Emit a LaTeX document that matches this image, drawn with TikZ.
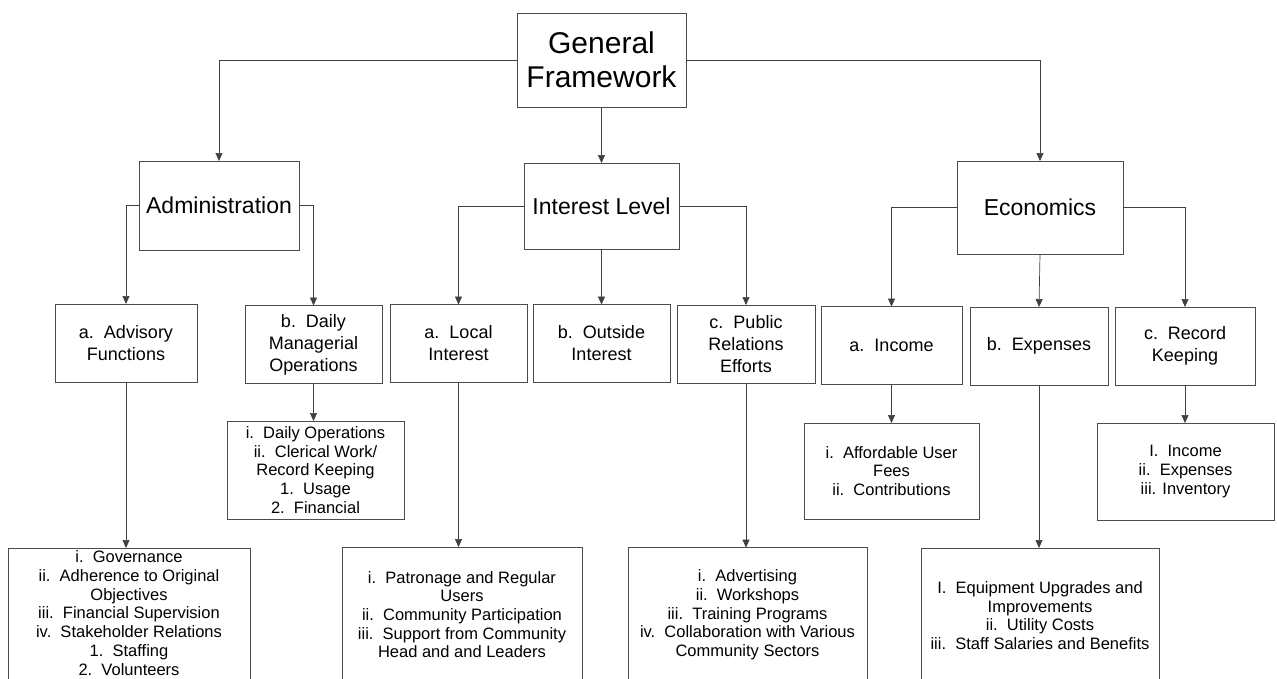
\documentclass[tikz,border=0pt]{standalone}
\usepackage{fontspec}
\setmainfont{Liberation Sans}
\usetikzlibrary{arrows.meta}

\begin{document}
\begin{tikzpicture}[x=1pt,y=-1pt,
  every node/.style={draw=black!70,line width=0.7pt,inner sep=0pt,outer sep=0pt,align=center},
  top/.style={font=\fontsize{30}{34}\selectfont},
  lvlone/.style={font=\fontsize{23}{27}\selectfont},
  lvltwo/.style={font=\fontsize{18}{22}\selectfont,minimum height=78pt},
  lvlthree/.style={font=\fontsize{16.5}{18.7}\selectfont},
  conn/.style={draw=black!75,line width=0.7pt,-{Triangle[length=8pt,width=7pt]}}]
\useasboundingbox (0,0) rectangle (1277,678);
\clip (0,0) rectangle (1277,678);
\fill[white] (0,0) rectangle (1277,678);

\node[top,minimum width=169pt,minimum height=94pt] (gf) at (601.5,60) {General\\Framework};

\node[lvlone,minimum width=160pt,minimum height=89pt] (admin) at (219,205.5) {Administration};
\node[lvlone,minimum width=155pt,minimum height=86pt] (interest) at (601.5,206) {Interest Level};
\node[lvlone,minimum width=166pt,minimum height=93pt] (econ) at (1040,207.5) {Economics};

\node[lvltwo,minimum width=142pt] (adv) at (126,343) {a.\ \ Advisory\\Functions};
\node[lvltwo,minimum width=137pt] (daily) at (313.5,344.5) {b.\ \ Daily\\Managerial\\Operations};
\node[lvltwo,minimum width=137pt] (local) at (458.5,343.5) {a.\ \ Local\\Interest};
\node[lvltwo,minimum width=137pt] (outside) at (601.5,343.5) {b.\ \ Outside\\Interest};
\node[lvltwo,minimum width=138pt] (public) at (746,344) {c.\ \ Public\\Relations\\Efforts};
\node[lvltwo,minimum width=141pt] (income) at (891.5,345.5) {a.\ \ Income};
\node[lvltwo,minimum width=138pt] (expenses) at (1039,346) {b.\ \ Expenses};
\node[lvltwo,minimum width=140pt] (record) at (1185,346) {c.\ \ Record\\Keeping};

\node[lvlthree,minimum width=177pt,minimum height=98pt] (dailylist) at (315.5,470)
  {i.\ \ Daily Operations\\ii.\ \ Clerical Work/\\Record Keeping\\1.\ \ Usage\\2.\ \ Financial};
\node[lvlthree,minimum width=175pt,minimum height=96pt] (incomelist) at (891.5,471)
  {i.\ \ Affordable User\\Fees\\ii.\ \ Contributions};
\node[lvlthree,minimum width=177pt,minimum height=97pt] (recordlist) at (1185.5,471.5)
  {I.\ \ Income\\ii.\ \ Expenses\\iii. Inventory};

\node[minimum width=242pt,minimum height=135pt] (advlist) at (129,615.5) {};
\node[lvlthree,draw=none] (advtext) at (129,613) {i.\ \ Governance\\ii.\ \ Adherence to Original\\Objectives\\iii.\ \ Financial Supervision\\
   iv.\ \ Stakeholder Relations\\1.\ \ Staffing\\2.\ \ Volunteers};
\node[lvlthree,minimum width=240pt,minimum height=135pt] (locallist) at (462,614.5)
  {i.\ \ Patronage and Regular\\Users\\ii.\ \ Community Participation\\
   iii.\ \ Support from Community\\Head and and Leaders};
\node[lvlthree,minimum width=239pt,minimum height=135pt] (publist) at (747.5,615)
  {i.\ \ Advertising\\ii.\ \ Workshops\\iii.\ \ Training Programs\\
   iv.\ \ Collaboration with Various\\Community Sectors};
\node[lvlthree,minimum width=238pt,minimum height=135pt] (explist) at (1040,615.5)
  {I.\ \ Equipment Upgrades and\\Improvements\\ii.\ \ Utility Costs\\iii.\ \ Staff Salaries and Benefits};

\draw[conn] (gf.west) -| (admin.north);
\draw[conn] (gf.south) -- (interest.north);
\draw[conn] (gf.east) -| (econ.north);

\draw[conn] (admin.west) -| (adv.north);
\draw[conn] (admin.east) -| (daily.north);
\draw[conn] (interest.west) -| (local.north);
\draw[conn] (interest.south) -- (outside.north);
\draw[conn] (interest.east) -| (public.north);
\draw[conn] (econ.west) -| (income.north);
\draw[conn] (econ.south) -- (expenses.north);
\draw[conn] (econ.east) -| (record.north);

\draw[conn] (adv.south) -- (adv.south |- advlist.north);
\draw[conn] (daily.south) -- (daily.south |- dailylist.north);
\draw[conn] (local.south) -- (local.south |- locallist.north);
\draw[conn] (public.south) -- (public.south |- publist.north);
\draw[conn] (income.south) -- (income.south |- incomelist.north);
\draw[conn] (expenses.south) -- (expenses.south |- explist.north);
\draw[conn] (record.south) -- (record.south |- recordlist.north);
\end{tikzpicture}
\end{document}
